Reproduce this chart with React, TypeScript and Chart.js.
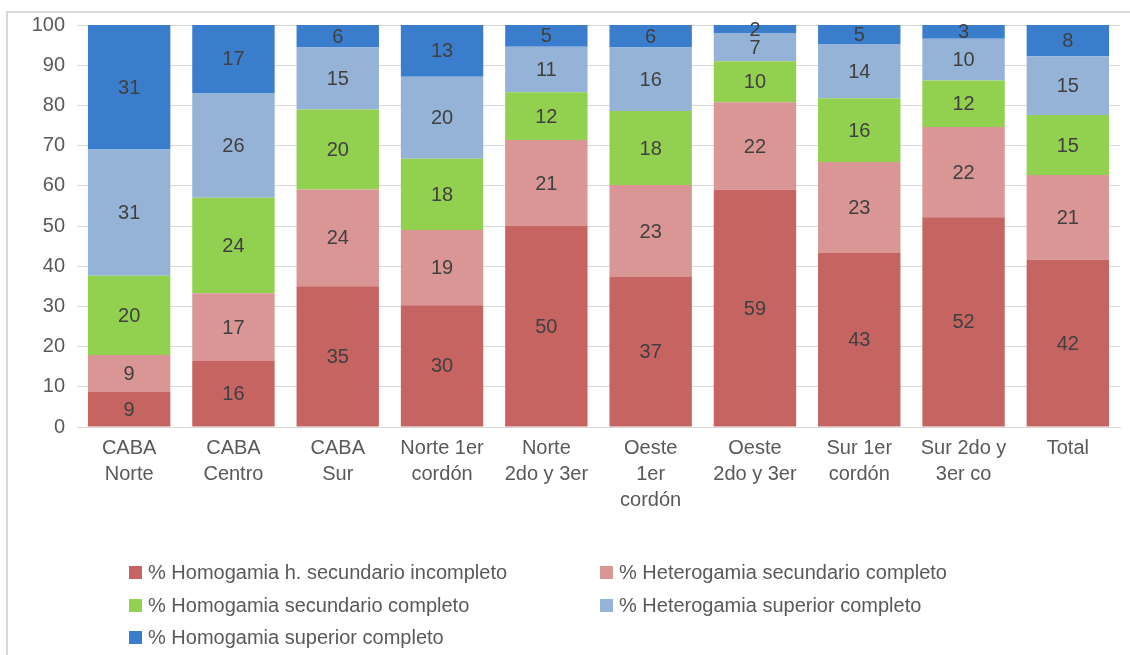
import React, { useEffect, useRef } from "react";
import { Chart, registerables } from "chart.js";

Chart.register(...registerables);

const categories: string[][] = [
  ["CABA", "Norte"],
  ["CABA", "Centro"],
  ["CABA", "Sur"],
  ["Norte 1er", "cordón"],
  ["Norte", "2do y 3er"],
  ["Oeste", "1er", "cordón"],
  ["Oeste", "2do y 3er"],
  ["Sur 1er", "cordón"],
  ["Sur 2do y", "3er co"],
  ["Total"],
];

const seriesNames = [
  "% Homogamia h. secundario incompleto",
  "% Heterogamia secundario completo",
  "% Homogamia secundario completo",
  "% Heterogamia superior completo",
  "% Homogamia superior completo",
];

const homSecInc = [8.7, 16.4, 35.0, 30.3, 50.0, 37.3, 59.0, 43.4, 52.2, 41.6];
const hetSecComp = [9.2, 16.9, 24.1, 18.7, 21.4, 22.9, 21.8, 22.5, 22.4, 21.1];
const homSecComp = [19.7, 23.7, 19.9, 17.7, 11.9, 18.4, 10.2, 15.9, 11.6, 14.9];
const hetSupComp = [31.4, 26.1, 15.4, 20.4, 11.3, 15.8, 7.0, 13.5, 10.4, 14.6];
const homSupComp = [31.0, 16.9, 5.6, 12.9, 5.4, 5.6, 2.0, 4.7, 3.4, 7.8];

const yTicks = [0, 10, 20, 30, 40, 50, 60, 70, 80, 90, 100];

const colors = ["#C66462", "#DA9694", "#92D050", "#95B3D7", "#3A7DCD"];

const FONT = "'Liberation Sans', Arial, sans-serif";

const valueLabels = {
  id: "valueLabels",
  afterDatasetsDraw(chart: any) {
    const ctx = chart.ctx;
    ctx.save();
    ctx.font = `20px ${FONT}`;
    ctx.fillStyle = "#404040";
    ctx.textAlign = "center";
    ctx.textBaseline = "middle";
    chart.data.datasets.forEach((ds: any, di: number) => {
      const meta = chart.getDatasetMeta(di);
      meta.data.forEach((el: any, i: number) => {
        const v = ds.data[i];
        const y = (el.y + el.base) / 2;
        ctx.fillText(String(Math.round(v)), el.x, y + 1);
      });
    });
    ctx.restore();
  },
};

export default function App() {
  const ref = useRef<HTMLCanvasElement | null>(null);

  useEffect(() => {
    document.body.style.margin = "0";
    if (!ref.current) return;
    const data = [homSecInc, hetSecComp, homSecComp, hetSupComp, homSupComp];
    const chart = new Chart(ref.current, {
      type: "bar",
      data: {
        labels: categories,
        datasets: data.map((d, i) => ({
          label: seriesNames[i],
          data: d,
          backgroundColor: colors[i],
          borderWidth: 0,
          categoryPercentage: 1,
          barPercentage: 0.79,
        })),
      },
      options: {
        animation: false,
        responsive: false,
        maintainAspectRatio: false,
        layout: { padding: { top: 25, right: 10, left: 0, bottom: 0 } },
        plugins: {
          legend: { display: false },
          tooltip: { enabled: false },
          title: { display: false },
        },
        scales: {
          x: {
            stacked: true,
            grid: { display: false, drawTicks: false },
            border: { display: true, color: "#D9D9D9", width: 1 },
            ticks: {
              color: "#595959",
              font: { family: FONT, size: 20, lineHeight: 1.3 },
              padding: 8,
              maxRotation: 0,
              autoSkip: false,
            },
            afterFit(scale: any) {
              scale.height = 228;
            },
          },
          y: {
            stacked: true,
            min: 0,
            max: 100,
            afterBuildTicks(scale: any) {
              scale.ticks = yTicks.map((v) => ({ value: v }));
            },
            grid: { color: "#D9D9D9", drawTicks: false },
            border: { display: false },
            ticks: {
              color: "#595959",
              font: { family: FONT, size: 20 },
              padding: 12,
            },
            afterFit(scale: any) {
              scale.width = 77;
            },
          },
        },
      },
      plugins: [valueLabels],
    });
    return () => chart.destroy();
  }, []);

  const legendItem = (i: number, left: number, top: number) => (
    <div
      key={i}
      style={{
        position: "absolute",
        left,
        top,
        display: "flex",
        alignItems: "center",
        fontFamily: FONT,
        fontSize: 20,
        color: "#595959",
        whiteSpace: "nowrap",
        lineHeight: "24px",
      }}
    >
      <span
        style={{
          display: "inline-block",
          width: 13,
          height: 13,
          background: colors[i],
          marginRight: 6,
        }}
      />
      {seriesNames[i]}
    </div>
  );

  return (
    <div style={{ position: "relative", width: 1130, height: 655, overflow: "hidden", background: "#fff" }}>
      <div
        style={{
          position: "absolute",
          left: 6,
          top: 11,
          width: 1140,
          height: 700,
          borderLeft: "2px solid #D9D9D9",
          borderTop: "2px solid #D9D9D9",
        }}
      />
      <canvas ref={ref} width={1130} height={655} style={{ position: "absolute", left: 0, top: 0 }} />
      {legendItem(0, 129, 560)}
      {legendItem(1, 600, 560)}
      {legendItem(2, 129, 593)}
      {legendItem(3, 600, 593)}
      {legendItem(4, 129, 625)}
    </div>
  );
}
